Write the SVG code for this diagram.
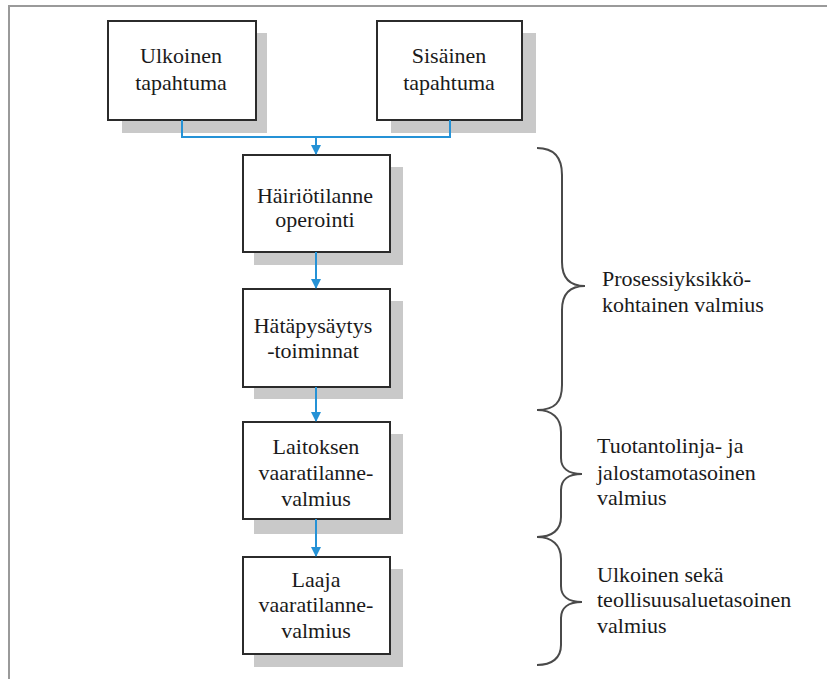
<svg xmlns="http://www.w3.org/2000/svg" width="827" height="679" viewBox="0 0 827 679">
  <style>
    .frame { fill: none; stroke: #9a9a9a; stroke-width: 2; }
    .shadow { fill: #c9c9c9; }
    .box { fill: #ffffff; stroke: #2b2b2b; stroke-width: 2; }
    .label { font-family: "Liberation Serif", "Times New Roman", serif; font-size: 22px; fill: #1a1a1a; }
    .mid { text-anchor: middle; }
    .flow { fill: none; stroke: #2592d6; stroke-width: 2; }
    .brace { fill: none; stroke: #4a4a4a; stroke-width: 2; }
  </style>
  <defs>
    <marker id="arrow" viewBox="0 0 10 10" refX="9" refY="5" markerWidth="5" markerHeight="5" orient="auto" markerUnits="strokeWidth">
      <path d="M0,0 L10,5 L0,10 z" fill="#2592d6"/>
    </marker>
  </defs>

  <!-- page background and frame -->
  <rect width="827" height="679" fill="#ffffff"/>
  <path class="frame" d="M9,679 L9,6 L827,6"/>

  <g id="ulkoinen">
    <rect class="shadow" x="122" y="33" width="145" height="100"/>
    <rect class="box" x="108" y="21" width="148" height="99"/>
    <text class="label mid" x="181" y="63">Ulkoinen</text>
    <text class="label mid" x="181" y="90">tapahtuma</text>
  </g>

  <g id="sisainen">
    <rect class="shadow" x="391" y="33" width="145" height="100"/>
    <rect class="box" x="377" y="21" width="145" height="99"/>
    <text class="label mid" x="449" y="63">Sisäinen</text>
    <text class="label mid" x="449" y="90">tapahtuma</text>
  </g>

  <g id="hairiotilanne">
    <rect class="shadow" x="254" y="167" width="149" height="98"/>
    <rect class="box" x="243" y="155" width="147" height="97"/>
    <text class="label mid" x="315" y="203">Häiriötilanne</text>
    <text class="label mid" x="315" y="227">operointi</text>
  </g>

  <g id="hatapysaytys">
    <rect class="shadow" x="254" y="301" width="149" height="98"/>
    <rect class="box" x="243" y="289" width="147" height="98"/>
    <text class="label mid" x="313" y="333">Hätäpysäytys</text>
    <text class="label mid" x="313" y="358">-toiminnat</text>
  </g>

  <g id="laitoksen">
    <rect class="shadow" x="254" y="434" width="149" height="100"/>
    <rect class="box" x="243" y="422" width="147" height="97"/>
    <text class="label mid" x="316" y="454">Laitoksen</text>
    <text class="label mid" x="316" y="480">vaaratilanne-</text>
    <text class="label mid" x="316" y="506">valmius</text>
  </g>

  <g id="laaja">
    <rect class="shadow" x="254" y="569" width="149" height="98"/>
    <rect class="box" x="243" y="557" width="147" height="97"/>
    <text class="label mid" x="316" y="587">Laaja</text>
    <text class="label mid" x="316" y="612">vaaratilanne-</text>
    <text class="label mid" x="316" y="638">valmius</text>
  </g>

  <g id="connectors">
    <path class="flow" d="M182,120 L182,137 L450,137 L450,120"/>
    <path class="flow" d="M316,137 L316,154" marker-end="url(#arrow)"/>
    <path class="flow" d="M316,252 L316,288" marker-end="url(#arrow)"/>
    <path class="flow" d="M316,387 L316,421" marker-end="url(#arrow)"/>
    <path class="flow" d="M316,519 L316,556" marker-end="url(#arrow)"/>
  </g>

  <g id="scope-prosessi">
    <path class="brace" d="M537,148 C555,148 562,158 562,175 L562,262 C562,278 570,286 585,286 C570,286 562,294 562,310 L562,385 C562,402 555,410 537,410"/>
    <text class="label" x="602" y="286">Prosessiyksikkö-</text>
    <text class="label" x="602" y="312">kohtainen valmius</text>
  </g>

  <g id="scope-tuotanto">
    <path class="brace" d="M537,410 C552,410 561,418 561,432 L561,458 C561,468 568,474 582,474 C568,474 561,480 561,490 L561,517 C561,530 552,537 537,537"/>
    <text class="label" x="597" y="453">Tuotantolinja- ja</text>
    <text class="label" x="597" y="480">jalostamotasoinen</text>
    <text class="label" x="597" y="505">valmius</text>
  </g>

  <g id="scope-ulkoinen">
    <path class="brace" d="M537,537 C552,537 561,545 561,559 L561,586 C561,596 568,602 582,602 C568,602 561,608 561,618 L561,645 C561,658 552,665 537,665"/>
    <text class="label" x="597" y="582">Ulkoinen sekä</text>
    <text class="label" x="597" y="607">teollisuusaluetasoinen</text>
    <text class="label" x="597" y="633">valmius</text>
  </g>
</svg>
